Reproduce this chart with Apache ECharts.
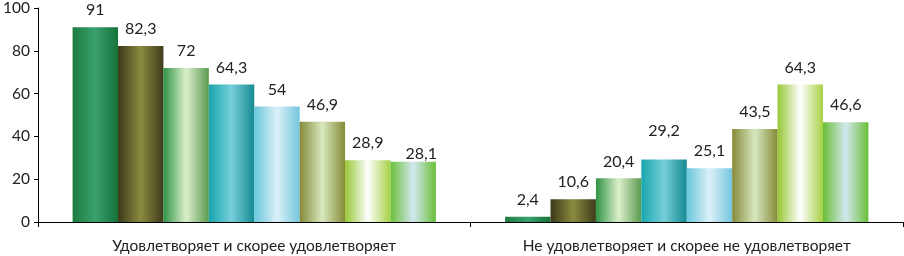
<!DOCTYPE html>
<html>
<head>
<meta charset="utf-8">
<script src="https://cdn.jsdelivr.net/npm/echarts@6/dist/echarts.min.js"></script>
<style>
  html, body { margin: 0; padding: 0; background: #fff; }
  #chart { width: 904px; height: 256px; }
</style>
</head>
<body>
<div id="chart"></div>
<script>
// categories
var categories = ["Удовлетворяет и скорее удовлетворяет", "Не удовлетворяет и скорее не удовлетворяет"];

// eight series, values per category
var s1 = [91, 2.4];
var s2 = [82.3, 10.6];
var s3 = [72, 20.4];
var s4 = [64.3, 29.2];
var s5 = [54, 25.1];
var s6 = [46.9, 43.5];
var s7 = [28.9, 64.3];
var s8 = [28.1, 46.6];
var seriesValues = [s1, s2, s3, s4, s5, s6, s7, s8];

var yTicks = [0, 20, 40, 60, 80, 100];

// left edge, middle, right edge of each bar gradient
var gradients = [
  ["#1c7c3e", "#3aa06e", "#15733a"],
  ["#3b391a", "#8a8b40", "#3e3b1a"],
  ["#2f9444", "#dcefcc", "#5a9a4e"],
  ["#18a6ae", "#76ced8", "#158a92"],
  ["#68c6dc", "#dcf0f7", "#74c6de"],
  ["#878a3a", "#d6e8be", "#868a38"],
  ["#96c634", "#ffffff", "#a6d044"],
  ["#6abf38", "#d2e8f0", "#6abf38"]
];

// small label nudges where the original labels were moved
var labelNudge = {
  "3-1": [0, -12],
  "7-0": [8, 9]
};

function fmt(v) {
  return String(v).replace(".", ",");
}

var series = seriesValues.map(function (vals, i) {
  var g = gradients[i];
  return {
    type: "bar",
    barGap: "0%",
    barCategoryGap: "16%",
    data: vals.map(function (v, j) {
      var item = { value: v };
      var n = labelNudge[i + "-" + j];
      if (n) item.label = { offset: n };
      return item;
    }),
    itemStyle: {
      color: new echarts.graphic.LinearGradient(0, 0, 1, 0, [
        { offset: 0, color: g[0] },
        { offset: 0.5, color: g[1] },
        { offset: 1, color: g[2] }
      ])
    },
    label: {
      show: true,
      position: "top",
      distance: 9,
      color: "#222",
      fontFamily: "Lato",
      fontSize: 16,
      formatter: function (p) { return fmt(p.value); }
    }
  };
});

var myChart = echarts.init(document.getElementById("chart"));
myChart.setOption({
  animation: false,
  grid: { left: 38, right: 1, top: 4, bottom: 34, containLabel: false },
  xAxis: {
    type: "category",
    data: categories,
    axisLine: { lineStyle: { color: "#000", width: 1 } },
    axisTick: { show: true, length: 5, lineStyle: { color: "#000" } },
    axisLabel: { color: "#222", fontFamily: "Lato", fontSize: 15.5, margin: 16 }
  },
  yAxis: {
    type: "value",
    min: yTicks[0],
    max: yTicks[yTicks.length - 1],
    interval: 20,
    splitLine: { show: false },
    axisLine: { show: true, lineStyle: { color: "#000", width: 1 } },
    axisTick: { show: true, length: 4, lineStyle: { color: "#000" } },
    axisLabel: { color: "#222", fontFamily: "Lato", fontSize: 15.5, margin: 8 }
  },
  series: series
});
</script>
</body>
</html>
